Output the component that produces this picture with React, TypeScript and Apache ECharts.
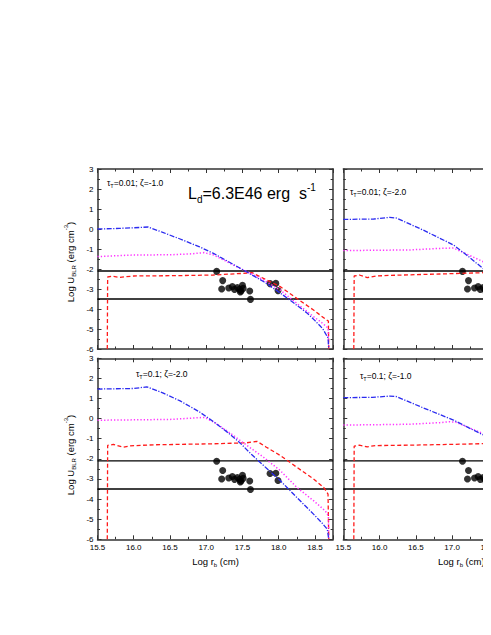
import React, { useEffect, useRef } from 'react';
import * as echarts from 'echarts';

const FF = "'Liberation Sans', Arial, Helvetica, sans-serif";

// x range / ticks
const X_MIN = 15.5;
const X_MAX = 18.75;
const Y_MIN = -6;
const Y_MAX = 3;

// horizontal reference levels
const hLevels = [-2.1, -3.5];

// observed points (same in every panel)
const ptsX = [17.144, 17.227, 17.213, 17.31, 17.36, 17.39, 17.43, 17.46, 17.48, 17.5, 17.51, 17.47, 17.6, 17.61, 17.88, 17.96, 17.99];
const ptsY = [-2.12, -2.58, -3.0, -2.95, -2.88, -3.02, -2.93, -3.02, -3.1, -2.82, -2.97, -3.15, -3.1, -3.52, -2.73, -2.72, -3.08];

// Panel 1: tau=0.01, zeta=-1.0
const p1BlueX = [15.5, 15.8, 16.0, 16.2, 16.4, 16.64, 16.9, 17.1, 17.3, 17.56, 17.8, 18.02, 18.2, 18.39, 18.5, 18.61, 18.68, 18.69];
const p1BlueY = [0.0, 0.03, 0.06, 0.1, -0.17, -0.5, -0.88, -1.22, -1.62, -2.15, -2.65, -3.2, -3.68, -4.2, -4.58, -5.0, -5.45, -6];
const p1MagX = [15.5, 15.8, 16.0, 16.5, 16.8, 16.97, 17.1, 17.24, 17.4, 17.6, 17.79, 18.02, 18.25, 18.48, 18.6, 18.68, 18.69];
const p1MagY = [-1.38, -1.33, -1.3, -1.29, -1.24, -1.18, -1.3, -1.55, -1.85, -2.2, -2.55, -3.05, -3.72, -4.38, -4.7, -4.95, -6];
const p1RedX = [15.635, 15.64, 15.7, 15.8, 15.9, 16.0, 16.64, 17.1, 17.5, 17.63, 17.79, 18.02, 18.25, 18.48, 18.66, 18.685, 18.69];
const p1RedY = [-6, -2.4, -2.36, -2.42, -2.38, -2.35, -2.33, -2.3, -2.22, -2.18, -2.47, -2.88, -3.47, -4.05, -4.55, -4.6, -6];

// Panel 2: tau=0.01, zeta=-2.0
const p2BlueX = [15.5, 15.92, 16.14, 16.23, 16.6, 17.02, 17.2, 17.48, 17.6];
const p2BlueY = [0.48, 0.5, 0.58, 0.55, -0.05, -0.8, -1.3, -2.13, -2.5];
const p2MagX = [15.5, 16.0, 16.4, 16.83, 17.02, 17.2, 17.48, 17.6];
const p2MagY = [-1.08, -1.06, -1.05, -0.97, -0.95, -1.25, -1.72, -1.95];
const p2RedX = [15.645, 15.65, 15.72, 15.83, 15.95, 16.14, 16.83, 17.48, 17.6];
const p2RedY = [-6, -2.35, -2.3, -2.43, -2.35, -2.32, -2.25, -2.18, -2.16];

// Panel 3: tau=0.1, zeta=-2.0
const p3BlueX = [15.5, 16.0, 16.18, 16.4, 16.64, 16.9, 17.1, 17.3, 17.47, 17.63, 17.79, 18.02, 18.25, 18.48, 18.6, 18.67, 18.69];
const p3BlueY = [1.47, 1.5, 1.58, 1.28, 0.88, 0.35, -0.15, -0.7, -1.22, -1.8, -2.33, -3.08, -3.92, -4.75, -5.2, -5.5, -6];
const p3MagX = [15.5, 16.0, 16.5, 16.91, 16.98, 17.14, 17.33, 17.56, 17.79, 18.02, 18.25, 18.48, 18.64, 18.685, 18.69];
const p3MagY = [-0.08, -0.06, -0.04, 0.05, 0.06, -0.25, -0.72, -1.33, -1.92, -2.58, -3.42, -4.08, -4.58, -4.83, -6];
const p3RedX = [15.635, 15.64, 15.72, 15.85, 15.95, 16.3, 16.64, 17.1, 17.56, 17.7, 17.83, 18.02, 18.25, 18.48, 18.62, 18.68, 18.69];
const p3RedY = [-6, -1.33, -1.28, -1.42, -1.35, -1.3, -1.28, -1.25, -1.2, -1.13, -1.42, -1.83, -2.42, -3.0, -3.42, -3.75, -6];

// Panel 4: tau=0.1, zeta=-1.0
const p4BlueX = [15.5, 15.9, 16.14, 16.23, 16.6, 17.02, 17.2, 17.48, 17.6];
const p4BlueY = [1.04, 1.06, 1.12, 1.1, 0.54, -0.07, -0.4, -0.9, -1.1];
const p4MagX = [15.5, 16.0, 16.4, 16.83, 16.97, 17.05, 17.2, 17.48, 17.6];
const p4MagY = [-0.32, -0.3, -0.28, -0.2, -0.15, -0.18, -0.4, -0.82, -1.0];
const p4RedX = [15.645, 15.65, 15.72, 15.83, 15.95, 16.4, 17.0, 17.48, 17.6];
const p4RedY = [-6, -1.37, -1.32, -1.4, -1.34, -1.32, -1.28, -1.24, -1.23];

const panelLabels = ['0.01|-1.0', '0.01|-2.0', '0.1|-2.0', '0.1|-1.0'];

const zip = (xs: number[], ys: number[]) => xs.map((x, i) => [x, ys[i]]);

const panels = [
  { blue: zip(p1BlueX, p1BlueY), mag: zip(p1MagX, p1MagY), red: zip(p1RedX, p1RedY) },
  { blue: zip(p2BlueX, p2BlueY), mag: zip(p2MagX, p2MagY), red: zip(p2RedX, p2RedY) },
  { blue: zip(p3BlueX, p3BlueY), mag: zip(p3MagX, p3MagY), red: zip(p3RedX, p3RedY) },
  { blue: zip(p4BlueX, p4BlueY), mag: zip(p4MagX, p4MagY), red: zip(p4RedX, p4RedY) },
];

// grid layout (chart coords): TL, TR, BL, BR
const grids = [
  { left: 89.5, top: 161, width: 235.6, height: 180 },
  { left: 335.3, top: 161, width: 235.6, height: 180 },
  { left: 89.5, top: 350.3, width: 235.6, height: 181 },
  { left: 335.3, top: 350.3, width: 235.6, height: 181 },
];

const AXIS_COLOR = '#333';

export default function App() {
  const ref = useRef<HTMLDivElement>(null);
  useEffect(() => {
    if (!ref.current) return;
    const chart = echarts.init(ref.current, undefined, { renderer: 'svg' });

    const xAxes: any[] = [];
    const yAxes: any[] = [];
    const series: any[] = [];

    grids.forEach((g, i) => {
      const isBottom = i >= 2;
      const isLeft = i % 2 === 0;
      const common = {
        gridIndex: i,
        type: 'value',
        axisLine: { show: true, onZero: false, lineStyle: { color: AXIS_COLOR, width: 1.5 } },
        axisTick: { show: true, inside: true, length: 4, lineStyle: { color: AXIS_COLOR, width: 1 } },
        minorTick: { show: true, splitNumber: 2, length: 2.5, lineStyle: { color: AXIS_COLOR, width: 1 } },
        splitLine: { show: false },
        minorSplitLine: { show: false },
      };
      const xBase = { ...common, min: X_MIN, max: X_MAX, interval: 0.5 };
      const yBase = { ...common, min: Y_MIN, max: Y_MAX, interval: 1 };
      xAxes.push({
        ...xBase,
        position: 'bottom',
        axisLabel: {
          show: isBottom,
          margin: 4,
          fontSize: 8,
          fontFamily: FF,
          color: '#000',
          formatter: (v: number) => (Math.abs(v * 2 - Math.round(v * 2)) < 1e-6 ? v.toFixed(1) : ''),
        },
      });
      xAxes.push({ ...xBase, position: 'top', axisLabel: { show: false } });
      yAxes.push({
        ...yBase,
        position: 'left',
        axisLabel: {
          show: isLeft,
          margin: 4,
          fontSize: 8,
          fontFamily: FF,
          color: '#000',
          formatter: (v: number) => String(Math.round(v)),
        },
      });
      yAxes.push({ ...yBase, position: 'right', axisLabel: { show: false } });

      const xi = i * 2;
      const yi = i * 2;
      const p = panels[i];
      hLevels.forEach((lv) => {
        series.push({
          type: 'line', xAxisIndex: xi, yAxisIndex: yi, symbol: 'none', silent: true,
          data: [[X_MIN, lv], [X_MAX, lv]],
          lineStyle: { color: '#000', width: 1.3 },
        });
      });
      series.push({
        type: 'line', xAxisIndex: xi, yAxisIndex: yi, symbol: 'none', data: p.red,
        lineStyle: { color: '#ff1a1a', width: 1.3, type: [4, 2.5] },
      });
      series.push({
        type: 'line', xAxisIndex: xi, yAxisIndex: yi, symbol: 'none', data: p.mag,
        lineStyle: { color: '#ff33ff', width: 1.5, type: [1.3, 2] },
      });
      series.push({
        type: 'line', xAxisIndex: xi, yAxisIndex: yi, symbol: 'none', data: p.blue,
        lineStyle: { color: '#2b2bf0', width: 1.3, type: [5, 1.5, 1.2, 1.5] },
      });
      series.push({
        type: 'scatter', xAxisIndex: xi, yAxisIndex: yi, symbol: 'circle', symbolSize: 7,
        itemStyle: { color: '#000' },
        data: zip(ptsX, ptsY),
      });
    });

    const rich = {
      n: { fontSize: 8.5, fontFamily: FF, lineHeight: 12, verticalAlign: 'middle', fill: '#000', color: '#000' },
      s: { fontSize: 5.5, fontFamily: FF, lineHeight: 5.5, verticalAlign: 'bottom', fill: '#000', color: '#000' },
    };
    const labelPos = [
      [99, 175],
      [342, 184],
      [128, 366],
      [352, 368],
    ];
    const graphics: any[] = panelLabels.map((lab, i) => {
      const [tau, zeta] = lab.split('|');
      return {
        type: 'text',
        x: labelPos[i][0],
        y: labelPos[i][1],
        style: {
          text: `{n|τ}{s|T}{n|=${tau}; ζ=${zeta}}`,
          rich,
          fontFamily: FF,
          fontSize: 8.5,
          fill: '#000',
          align: 'left',
          textAlign: 'left',
          verticalAlign: 'middle',
          textVerticalAlign: 'middle',
        },
      };
    });

    // big luminosity label
    graphics.push({
      type: 'text',
      x: 180,
      y: 185,
      style: {
        text: '{b|L}{bs|d}{b|=6.3E46 erg  s}{bp|-1}',
        rich: {
          b: { fontSize: 16, fontFamily: FF, lineHeight: 22, verticalAlign: 'middle', fill: '#000' },
          bs: { fontSize: 10, fontFamily: FF, lineHeight: 10, verticalAlign: 'bottom', fill: '#000' },
          bp: { fontSize: 10, fontFamily: FF, lineHeight: 10, verticalAlign: 'top', fill: '#000' },
        },
        fontFamily: FF,
        fontSize: 16,
        fill: '#000',
        align: 'left',
        textAlign: 'left',
        verticalAlign: 'middle',
        textVerticalAlign: 'middle',
      },
    });

    const titleRich = {
      t: { fontSize: 9.5, fontFamily: FF, lineHeight: 14, verticalAlign: 'middle', fill: '#000' },
      ts: { fontSize: 6, fontFamily: FF, lineHeight: 6, verticalAlign: 'bottom', fill: '#000' },
      tp: { fontSize: 6, fontFamily: FF, lineHeight: 6, verticalAlign: 'top', fill: '#000' },
    };
    [254, 447].forEach((cy) => {
      graphics.push({
        type: 'text',
        x: 62,
        y: cy,
        rotation: Math.PI / 2,
        style: {
          text: '{t|Log U}{ts|BLR}{t| (erg cm}{tp|-3}{t|)}',
          rich: titleRich,
          fontFamily: FF,
          fontSize: 9.5,
          fill: '#000',
          align: 'center',
          textAlign: 'center',
          verticalAlign: 'middle',
          textVerticalAlign: 'middle',
        },
      });
    });
    [207.5, 453.3].forEach((cx) => {
      graphics.push({
        type: 'text',
        x: cx,
        y: 553,
        style: {
          text: '{t|Log r}{ts|b}{t| (cm)}',
          rich: titleRich,
          fontFamily: FF,
          fontSize: 9.5,
          fill: '#000',
          align: 'center',
          textAlign: 'center',
          verticalAlign: 'middle',
          textVerticalAlign: 'middle',
        },
      });
    });

    chart.setOption({
      animation: false,
      backgroundColor: '#fff',
      grid: grids.map((g) => ({ ...g, containLabel: false })),
      xAxis: xAxes,
      yAxis: yAxes,
      series,
      graphic: graphics,
    });
    return () => chart.dispose();
  }, []);
  return (
    <div style={{ width: 483, height: 610, overflow: 'hidden' }}>
      <div ref={ref} style={{ width: 600, height: 610 }} />
    </div>
  );
}
